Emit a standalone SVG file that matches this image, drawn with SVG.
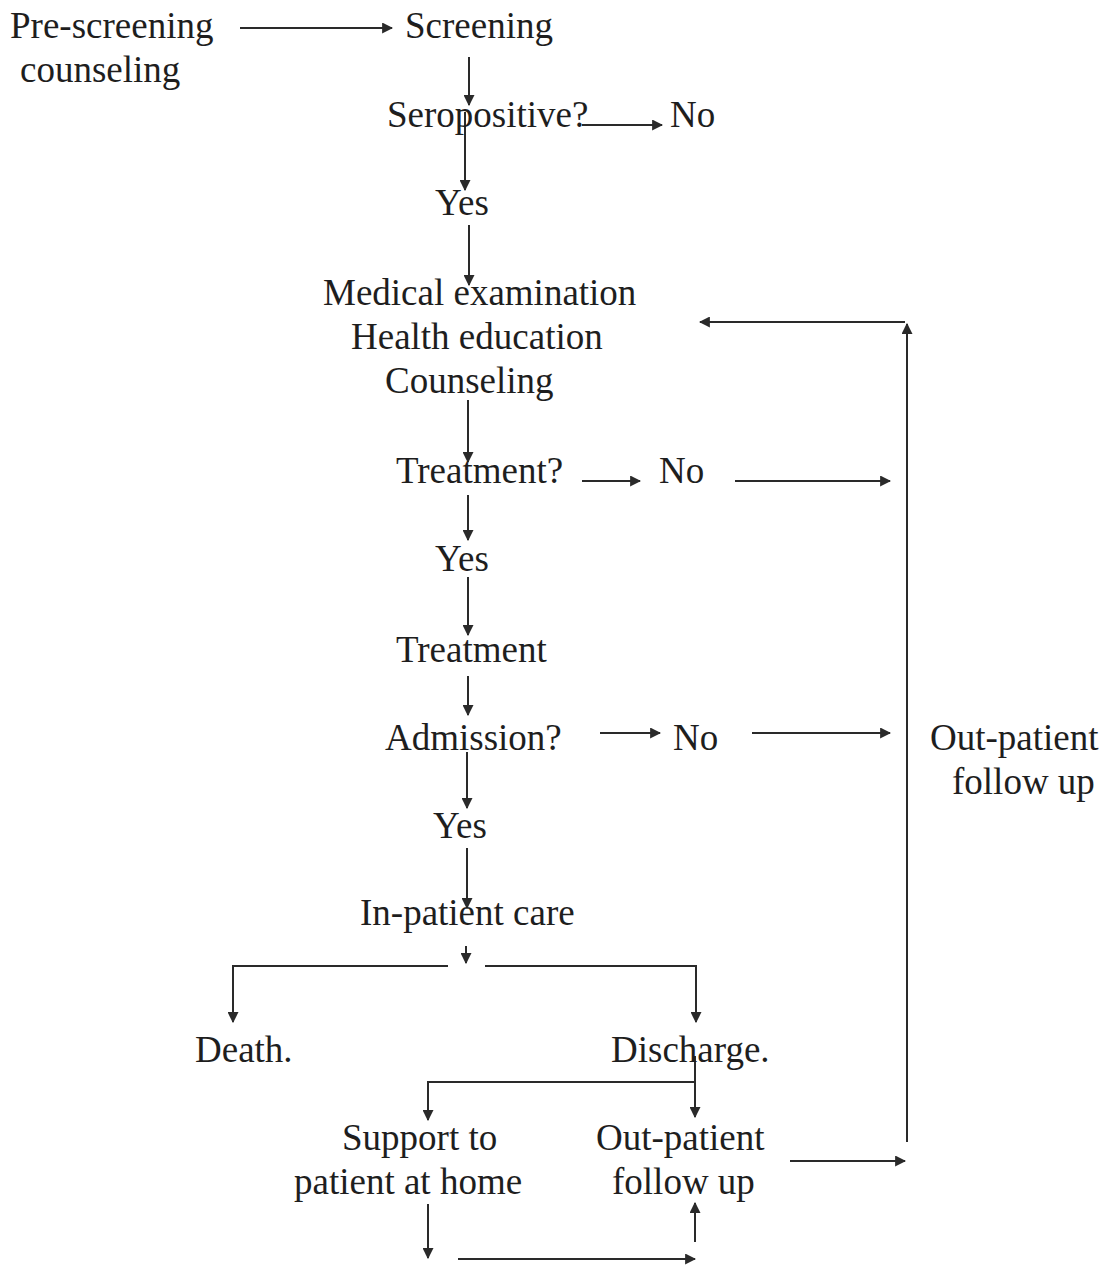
<svg xmlns="http://www.w3.org/2000/svg" width="1113" height="1266" viewBox="0 0 1113 1266">
<defs>
<style>
text{font-family:"Liberation Serif","Times New Roman",serif;font-size:37px;fill:#1e1e1e}
.c line,.c path{stroke:#2a2a2a;stroke-width:2;fill:none}
.a{marker-end:url(#ah)}
</style>
<marker id="ah" viewBox="0 0 10 10" refX="9" refY="5" markerWidth="5.5" markerHeight="5.5" orient="auto" markerUnits="strokeWidth">
<path d="M0,0 L10,5 L0,10 z" fill="#2a2a2a"/>
</marker>
</defs>
<rect width="1113" height="1266" fill="#fff"/>
<g class="c" id="connectors">
<line class="a" x1="240" y1="28" x2="392" y2="28"/>
<line class="a" x1="469" y1="57" x2="469" y2="105"/>
<line class="a" x1="582" y1="125" x2="662" y2="125"/>
<line class="a" x1="465" y1="112" x2="465" y2="190"/>
<line class="a" x1="469" y1="225" x2="469" y2="285"/>
<line class="a" x1="905" y1="322" x2="700" y2="322"/>
<line class="a" x1="907" y1="1142" x2="907" y2="324"/>
<line class="a" x1="468" y1="400" x2="468" y2="462"/>
<line class="a" x1="582" y1="481" x2="640" y2="481"/>
<line class="a" x1="735" y1="481" x2="890" y2="481"/>
<line class="a" x1="468" y1="495" x2="468" y2="540"/>
<line class="a" x1="468" y1="577" x2="468" y2="635"/>
<line class="a" x1="468" y1="676" x2="468" y2="715"/>
<line class="a" x1="600" y1="733" x2="660" y2="733"/>
<line class="a" x1="752" y1="733" x2="890" y2="733"/>
<line class="a" x1="467" y1="752" x2="467" y2="808"/>
<line class="a" x1="467" y1="848" x2="467" y2="908"/>
<line class="a" x1="466" y1="946" x2="466" y2="963"/>
<path class="a" d="M448,966 H233 V1022"/>
<path class="a" d="M485,966 H696 V1022"/>
<line x1="695" y1="1056" x2="695" y2="1082"/>
<path class="a" d="M695,1082 H428 V1120"/>
<line class="a" x1="695" y1="1082" x2="695" y2="1117"/>
<line class="a" x1="790" y1="1161" x2="905" y2="1161"/>
<line class="a" x1="428" y1="1204" x2="428" y2="1258"/>
<line class="a" x1="458" y1="1259" x2="695" y2="1259"/>
<line class="a" x1="695" y1="1242" x2="695" y2="1203"/>
</g>
<g id="n-prescreening"><text x="10" y="38">Pre-screening</text><text x="20" y="82">counseling</text></g>
<g id="n-screening"><text x="405" y="38">Screening</text></g>
<g id="n-seropositive"><text x="387" y="127">Seropositive?</text></g>
<g id="n-no1"><text x="670" y="127">No</text></g>
<g id="n-yes1"><text x="435" y="215">Yes</text></g>
<g id="n-medical"><text x="323" y="305">Medical examination</text><text x="351" y="349">Health education</text><text x="385" y="393">Counseling</text></g>
<g id="n-treatmentq"><text x="396" y="483">Treatment?</text></g>
<g id="n-no2"><text x="659" y="483">No</text></g>
<g id="n-yes2"><text x="435" y="571">Yes</text></g>
<g id="n-treatment"><text x="396" y="662">Treatment</text></g>
<g id="n-admission"><text x="385" y="750">Admission?</text></g>
<g id="n-no3"><text x="673" y="750">No</text></g>
<g id="n-yes3"><text x="433" y="838">Yes</text></g>
<g id="n-inpatient"><text x="360" y="925">In-patient care</text></g>
<g id="n-death"><text x="195" y="1062">Death.</text></g>
<g id="n-discharge"><text x="611" y="1062">Discharge.</text></g>
<g id="n-support"><text x="342" y="1150">Support to</text><text x="294" y="1194">patient at home</text></g>
<g id="n-outpatient1"><text x="596" y="1150">Out-patient</text><text x="612" y="1194">follow up</text></g>
<g id="n-outpatient2"><text x="930" y="750">Out-patient</text><text x="952" y="794">follow up</text></g>
</svg>
